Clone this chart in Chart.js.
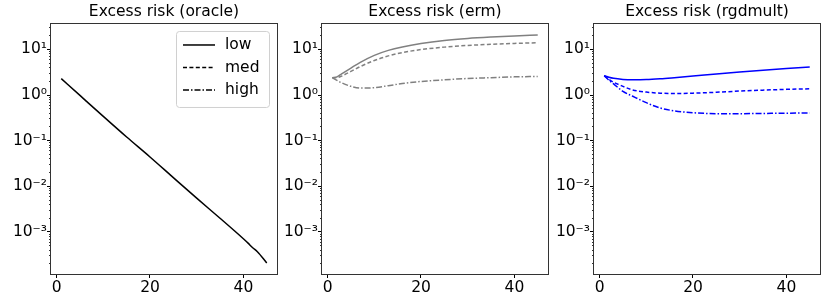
<!DOCTYPE html>
<html>
<head>
<meta charset="utf-8">
<script src="https://cdn.jsdelivr.net/npm/chart.js@4.4.1/dist/chart.umd.min.js"></script>
<style>
body{margin:0;background:#fff;width:830px;height:303px;overflow:hidden;position:relative}
canvas{position:absolute;top:0}
</style>
</head>
<body>
<canvas id="c0"></canvas>
<canvas id="c1"></canvas>
<canvas id="c2"></canvas>
<script>
const seriesNames=['low','med','high'];
const panelTitles=['Excess risk (oracle)','Excess risk (erm)','Excess risk (rgdmult)'];
const xTicks=[0,20,40];
const yDecades=[-3,-2,-1,0,1];

// oracle: only the "low" curve is visible
const oracleSteps=[1,5,10,15,20,25,30,35,40,41,42,43,45];
const oracleLow=[2.29,0.98,0.34,0.12,0.044,0.0155,0.0055,0.0020,0.00071,0.00057,0.00045,0.00037,0.00021];

const steps=[1,2,3,5,7,10,13,16,20,25,30,35,40,45];
const ermLow=[2.4,2.5,2.9,3.9,5.2,7.4,9.5,11.3,13.4,15.6,17.3,18.6,19.7,20.6];
const ermMed=[2.4,2.4,2.6,3.3,4.2,5.7,7.2,8.5,9.9,11.2,12.2,12.9,13.5,14.0];
const ermHigh=[2.4,2.1,1.85,1.55,1.42,1.45,1.6,1.78,1.98,2.15,2.3,2.4,2.5,2.55];
const rgdLow=[2.65,2.45,2.32,2.2,2.16,2.18,2.27,2.4,2.6,2.9,3.2,3.5,3.8,4.1];
const rgdMed=[2.65,2.2,1.9,1.55,1.3,1.16,1.1,1.08,1.1,1.15,1.22,1.28,1.33,1.37];
const rgdHigh=[2.65,2.1,1.75,1.2,0.95,0.68,0.52,0.45,0.41,0.39,0.39,0.395,0.40,0.405];

const dashes=[[],[4,2.4],[6,2,1.5,2]];
const fam='"DejaVu Sans", sans-serif';
const Y_MIN=1.2e-4, Y_MAX=36;
const X_MIN=-1.2, X_MAX=47.2;
const chartLeft=[51,322,594];
const plotW=226, axisW=50, bottomH=29;

const sup={'-':'\u207B','0':'\u2070','1':'\u00B9','2':'\u00B2','3':'\u00B3'};
function powLabel(e){
    return '10'+String(e).split('').map(c=>sup[c]).join('');
}

const framePlugin={
    id:'frame',
    afterDraw(chart){
        const a=chart.chartArea, ctx=chart.ctx;
        ctx.save();
        ctx.strokeStyle='#333';
        ctx.lineWidth=1;
        ctx.strokeRect(Math.round(a.left)-0.5, Math.round(a.top)-0.5, Math.round(a.right-a.left)+1, Math.round(a.bottom-a.top)+1);
        ctx.restore();
    }
};

const legendPlugin={
    id:'boxLegend',
    afterDraw(chart){
        const a=chart.chartArea, ctx=chart.ctx;
        const bx=a.right-101, by=a.top+7, bw=93, bh=76;
        ctx.save();
        ctx.beginPath();
        ctx.roundRect(bx+0.5, by+0.5, bw, bh, 3);
        ctx.fillStyle='rgba(255,255,255,0.8)';
        ctx.fill();
        ctx.strokeStyle='#d0d0d0';
        ctx.lineWidth=1;
        ctx.stroke();
        const rows=[14,36.5,59];
        seriesNames.forEach((name,k)=>{
            const y=by+rows[k];
            ctx.beginPath();
            ctx.setLineDash(dashes[k]);
            ctx.strokeStyle='#000';
            ctx.lineWidth=1.5;
            ctx.moveTo(bx+7, y);
            ctx.lineTo(bx+39, y);
            ctx.stroke();
            ctx.setLineDash([]);
            ctx.fillStyle='#000';
            ctx.font='15.5px '+fam;
            ctx.textBaseline='middle';
            ctx.fillText(name, bx+49, y);
        });
        ctx.restore();
    }
};

function makePanel(i, color, series, xs){
    const cv=document.getElementById('c'+i);
    cv.width=axisW+plotW+3;
    cv.height=303;
    cv.style.left=(chartLeft[i]-axisW)+'px';

    const datasets=series.map((vals,k)=>({
        label: seriesNames[k],
        data: vals.map((v,j)=>({x: xs[j], y: v})),
        borderColor: color,
        borderWidth: 1.5,
        borderDash: dashes[k],
        pointRadius: 0,
        fill: false,
        cubicInterpolationMode: 'monotone'
    }));

    new Chart(cv, {
        type: 'line',
        data: {datasets},
        options: {
            responsive: false,
            animation: false,
            devicePixelRatio: 1,
            layout: {padding: {right: 3, left: 0, top: 0, bottom: 0}},
            plugins: {
                legend: {display: false},
                tooltip: {enabled: false},
                title: {
                    display: true,
                    text: panelTitles[i],
                    fullSize: false,
                    color: '#000',
                    font: {family: fam, size: 15.5, weight: 'normal', lineHeight: 1.16},
                    padding: {top: 3, bottom: 3}
                }
            },
            scales: {
                x: {
                    type: 'linear',
                    min: X_MIN,
                    max: X_MAX,
                    afterBuildTicks: s=> { s.ticks=xTicks.map(v=>({value: v})); },
                    afterFit: s=> { s.height=bottomH; },
                    grid: {drawOnChartArea: false, tickLength: 4, tickColor: '#000'},
                    border: {display: false},
                    ticks: {color: '#000', font: {family: fam, size: 15.5}, padding: 1, maxRotation: 0, autoSkip: false}
                },
                y: {
                    type: 'logarithmic',
                    position: 'left',
                    weight: 1,
                    min: Y_MIN,
                    max: Y_MAX,
                    afterBuildTicks: s=> { s.ticks=yDecades.map(e=>({value: Math.pow(10,e), major: true})); },
                    afterFit: s=> { s.width=axisW; },
                    grid: {drawOnChartArea: false, tickLength: 4, tickColor: '#000'},
                    border: {display: false},
                    ticks: {
                        color: '#000',
                        font: {family: fam, size: 15.5},
                        padding: 0,
                        autoSkip: false,
                        callback: v=> powLabel(Math.round(Math.log10(v)))
                    }
                },
                yMinor: {
                    type: 'logarithmic',
                    position: 'left',
                    weight: 0,
                    min: Y_MIN,
                    max: Y_MAX,
                    afterBuildTicks: s=> {
                        const t=[];
                        for (let e=-4; e<=1; e++) {
                            for (let m=2; m<=9; m++) {
                                const v=m*Math.pow(10,e);
                                if (v>=Y_MIN && v<=Y_MAX) t.push({value: v});
                            }
                        }
                        s.ticks=t;
                    },
                    afterFit: s=> { s.width=0; },
                    grid: {drawOnChartArea: false, tickLength: 2, tickColor: '#000', tickWidth: 0.8},
                    border: {display: false},
                    ticks: {autoSkip: false, padding: 0, font: {size: 1}, callback: ()=> ''}
                }
            }
        },
        plugins: i===0 ? [framePlugin, legendPlugin] : [framePlugin]
    });
}

makePanel(0, '#000000', [oracleLow], oracleSteps);
makePanel(1, '#808080', [ermLow, ermMed, ermHigh], steps);
makePanel(2, '#0000ff', [rgdLow, rgdMed, rgdHigh], steps);
</script>
</body>
</html>
